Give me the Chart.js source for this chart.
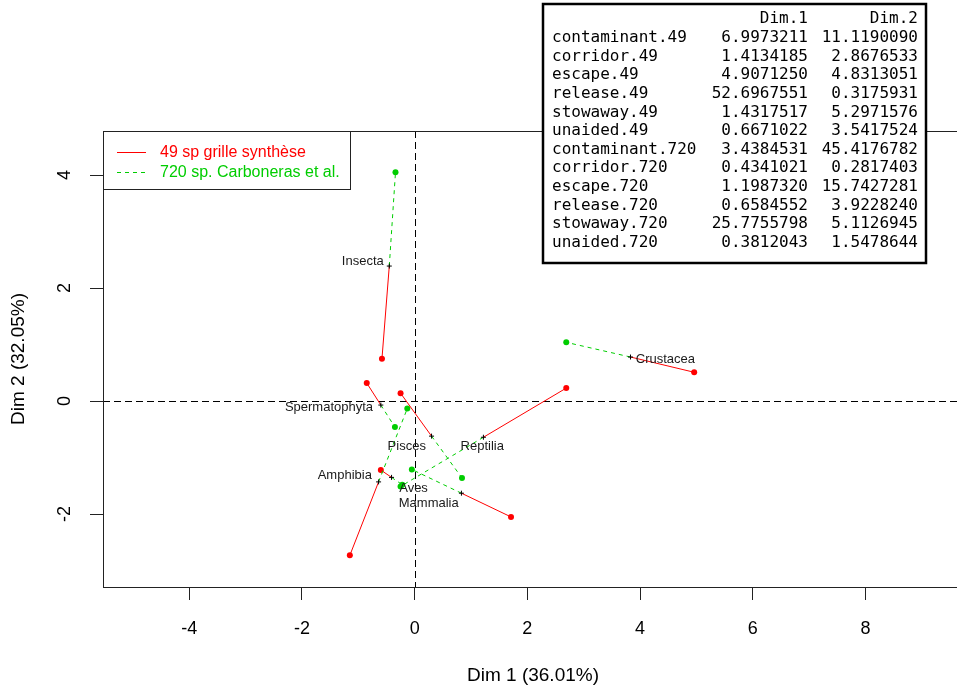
<!DOCTYPE html>
<html><head><meta charset="utf-8">
<script src="https://cdn.jsdelivr.net/npm/chart.js@4/dist/chart.umd.min.js"></script>
<style>html,body{margin:0;padding:0;overflow:hidden;background:#fff}#wrap{position:relative;width:967px;height:688px}</style>
</head><body><div id="wrap"><canvas id="c" width="967" height="688"></canvas></div>
<script>
// ---- data ----
const categories = ['Insecta','Crustacea','Spermatophyta','Pisces','Reptilia','Amphibia','Aves','Mammalia'];
const meanX = [-0.45, 3.83, -0.60, 0.30, 1.22, -0.64, -0.41, 0.83];
const meanY = [ 2.39, 0.78, -0.07, -0.62, -0.64, -1.43, -1.35, -1.63];
const p49X  = [-0.58, 4.96, -0.85, -0.25, 2.69, -1.15, -0.60, 1.71];
const p49Y  = [ 0.75, 0.51, 0.32, 0.14, 0.23, -2.73, -1.22, -2.05];
const p720X = [-0.34, 2.69, -0.35, 0.84, -0.25, -0.13, -0.22, -0.05];
const p720Y = [ 4.05, 1.04, -0.46, -1.36, -1.51, -0.13, -1.48, -1.21];
const labelX = [-0.92, 4.45, -1.52, -0.14, 1.20, -1.24, -0.02, 0.25];
const labelY = [ 2.48, 0.73, -0.11, -0.80, -0.80, -1.31, -1.54, -1.81];
const xTicks = [-4, -2, 0, 2, 4, 6, 8];
const yTicks = [-2, 0, 2, 4];
const xTitle = 'Dim 1 (36.01%)';
const yTitle = 'Dim 2 (32.05%)';
const legendLabels = ['49 sp grille synthèse', '720 sp. Carboneras et al.'];
const tableHeader = ['Dim.1', 'Dim.2'];
const tableRows = ['contaminant.49','corridor.49','escape.49','release.49','stowaway.49','unaided.49',
  'contaminant.720','corridor.720','escape.720','release.720','stowaway.720','unaided.720'];
const tableDim1 = [6.9973211, 1.4134185, 4.9071250, 52.6967551, 1.4317517, 0.6671022,
  3.4384531, 0.4341021, 1.1987320, 0.6584552, 25.7755798, 0.3812043];
const tableDim2 = [11.1190090, 2.8676533, 4.8313051, 0.3175931, 5.2971576, 3.5417524,
  45.4176782, 0.2817403, 15.7427281, 3.9228240, 5.1126945, 1.5478644];

// ---- styles ----
const RED = '#FF0000', GREEN = '#00CD00';
const datasets = [];
datasets.push({
  label: 'means', data: categories.map((c, i) => ({x: meanX[i], y: meanY[i]})),
  showLine: false, pointStyle: 'cross', pointRadius: 2.5, pointBorderColor: '#000', pointBorderWidth: 1, pointHoverRadius: 2.5
});
categories.forEach((c, i) => {
  datasets.push({
    label: c + ' 49', data: [{x: meanX[i], y: meanY[i]}, {x: p49X[i], y: p49Y[i]}],
    showLine: true, borderColor: RED, borderWidth: 1, pointRadius: [0, 3], pointBackgroundColor: RED,
    pointBorderColor: RED, pointBorderWidth: 0
  });
  datasets.push({
    label: c + ' 720', data: [{x: meanX[i], y: meanY[i]}, {x: p720X[i], y: p720Y[i]}],
    showLine: true, borderColor: GREEN, borderWidth: 1, borderDash: [4, 4], pointRadius: [0, 3],
    pointBackgroundColor: GREEN, pointBorderColor: GREEN, pointBorderWidth: 0
  });
});

const decor = {
  id: 'decor',
  beforeDatasetsDraw(chart) {
    const {ctx, chartArea: a, scales: {x, y}} = chart;
    ctx.save();
    ctx.strokeStyle = '#000'; ctx.lineWidth = 1; ctx.setLineDash([7, 4]);
    const y0 = Math.round(y.getPixelForValue(0)) + 0.5;
    const x0 = Math.round(x.getPixelForValue(0)) + 0.5;
    ctx.beginPath(); ctx.moveTo(a.left, y0); ctx.lineTo(a.right, y0); ctx.stroke();
    ctx.beginPath(); ctx.moveTo(x0, a.top); ctx.lineTo(x0, a.bottom); ctx.stroke();
    ctx.restore();
  },
  afterDatasetsDraw(chart) {
    const {ctx, scales: {x, y}} = chart;
    ctx.save();
    ctx.font = '13px "Liberation Sans", Arial, sans-serif';
    ctx.fillStyle = '#1a1a1a'; ctx.textAlign = 'center'; ctx.textBaseline = 'middle';
    categories.forEach((c, i) => ctx.fillText(c, x.getPixelForValue(labelX[i]), y.getPixelForValue(labelY[i])));
    ctx.restore();
  },
  afterDraw(chart) {
    const {ctx, chartArea: a} = chart;
    ctx.save();
    // plot box
    ctx.strokeStyle = '#222'; ctx.lineWidth = 1; ctx.setLineDash([]);
    ctx.strokeRect(a.left + 0.5, a.top + 0.5, a.right - a.left - 1, a.bottom - a.top);
    // legend
    ctx.fillStyle = '#fff';
    ctx.fillRect(a.left + 0.5, a.top + 0.5, 247, 58);
    ctx.strokeRect(a.left + 0.5, a.top + 0.5, 247, 58);
    ctx.lineWidth = 1;
    ctx.strokeStyle = RED; ctx.beginPath(); ctx.moveTo(117, 152.5); ctx.lineTo(146, 152.5); ctx.stroke();
    ctx.strokeStyle = GREEN; ctx.setLineDash([4, 4]); ctx.beginPath(); ctx.moveTo(117, 172.5); ctx.lineTo(146, 172.5); ctx.stroke();
    ctx.setLineDash([]);
    ctx.font = '16px "Liberation Sans", Arial, sans-serif'; ctx.textBaseline = 'middle'; ctx.textAlign = 'left';
    ctx.fillStyle = RED; ctx.fillText(legendLabels[0], 160, 153);
    ctx.fillStyle = GREEN; ctx.fillText(legendLabels[1], 160, 173);
    // table
    ctx.fillStyle = '#fff';
    ctx.fillRect(543, 4, 383, 259);
    ctx.strokeStyle = '#000'; ctx.lineWidth = 2.5;
    ctx.strokeRect(543, 4, 383, 259);
    ctx.fillStyle = '#000';
    ctx.font = '16px "DejaVu Sans Mono", monospace'; ctx.textBaseline = 'middle';
    ctx.textAlign = 'right';
    ctx.fillText(tableHeader[0], 808, 19);
    ctx.fillText(tableHeader[1], 918, 19);
    tableRows.forEach((r, i) => {
      const yy = 38 + i * 18.6;
      ctx.textAlign = 'left'; ctx.fillText(r, 552, yy);
      ctx.textAlign = 'right';
      ctx.fillText(tableDim1[i].toFixed(7), 808, yy);
      ctx.fillText(tableDim2[i].toFixed(7), 918, yy);
    });
    ctx.restore();
  }
};

new Chart(document.getElementById('c'), {
  type: 'scatter',
  data: {datasets},
  options: {
    responsive: false, animation: false, devicePixelRatio: 1,
    layout: {padding: {top: 131, right: 0, bottom: 0, left: 0}},
    plugins: {legend: {display: false}, tooltip: {enabled: false}},
    events: [],
    scales: {
      x: {
        type: 'linear', min: -5.53, max: 9.73,
        afterBuildTicks: s => { s.ticks = xTicks.map(v => ({value: v})); },
        afterFit: s => { s.height = 101; },
        grid: {display: true, drawOnChartArea: false, drawTicks: true, tickLength: 13, tickColor: '#222'},
        border: {display: true, color: '#222'},
        ticks: {color: '#000', font: {family: '"Liberation Sans", Arial, sans-serif', size: 18}, padding: 18, maxRotation: 0},
        title: {display: true, text: xTitle, color: '#000', font: {family: '"Liberation Sans", Arial, sans-serif', size: 19}, padding: {top: 0, bottom: 1}}
      },
      y: {
        type: 'linear', min: -3.29, max: 4.78,
        afterBuildTicks: s => { s.ticks = yTicks.map(v => ({value: v})); },
        afterFit: s => { s.width = 103; },
        grid: {display: true, drawOnChartArea: false, drawTicks: true, tickLength: 13, tickColor: '#222'},
        border: {display: true, color: '#222'},
        ticks: {color: '#000', font: {family: '"Liberation Sans", Arial, sans-serif', size: 18}, padding: 17, minRotation: 90, maxRotation: 90, crossAlign: 'center'},
        title: {display: true, text: yTitle, color: '#000', font: {family: '"Liberation Sans", Arial, sans-serif', size: 19}, padding: {top: 7, bottom: 0}}
      }
    }
  },
  plugins: [decor]
});
</script></body></html>
